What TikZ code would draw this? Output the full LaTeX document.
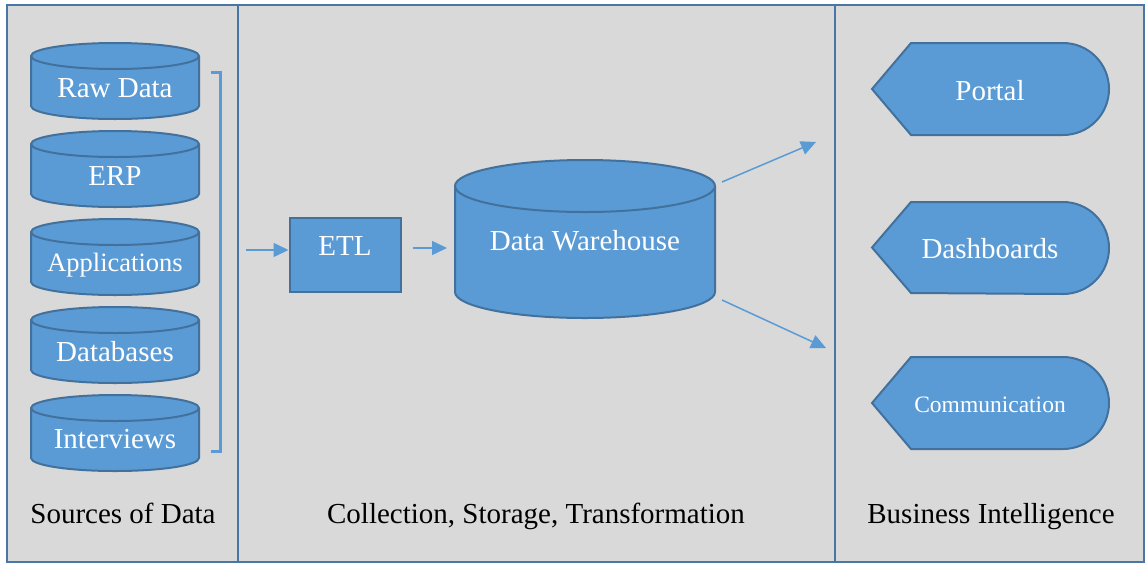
\documentclass[tikz,border=0pt]{standalone}
\usepackage{fontspec}
\setmainfont{Liberation Serif}
\usetikzlibrary{arrows.meta,calc}
\definecolor{bgray}{HTML}{D9D9D9}
\definecolor{fillblue}{HTML}{5B9BD5}
\definecolor{edgeblue}{HTML}{41719C}
\definecolor{framblue}{HTML}{4A76A6}
\tikzset{
  cylbody/.style={fill=fillblue,draw=edgeblue,line width=2pt},
  celltext/.style={text=white,inner sep=0pt,anchor=base,font=\fontsize{29}{31}\selectfont},
  caption/.style={text=black,inner sep=0pt,anchor=base,font=\fontsize{29}{31}\selectfont},
  flowarrow/.style={draw=fillblue,line width=1.5pt,-{Triangle[length=15pt,width=14pt]}},
  bishape/.style={fill=fillblue,draw=edgeblue,line width=2pt},
}
% #1 name, #2 cx, #3 top, #4 bottom, #5 rx, #6 ry
\newcommand\dbcyl[6]{%
  \filldraw[cylbody] (#2-#5,-#3-#6) -- (#2-#5,-#4+#6)
    arc[start angle=180,end angle=360,x radius=#5,y radius=#6]
    -- (#2+#5,-#3-#6)
    arc[start angle=0,end angle=180,x radius=#5,y radius=#6] -- cycle;
  \draw[cylbody,fill=none] (#2-#5,-#3-#6)
    arc[start angle=180,end angle=360,x radius=#5,y radius=#6];
  \node[inner sep=0pt,minimum width=2*#5,minimum height=#4-#3] (#1) at (#2,-#3/2-#4/2) {};
}
% #1 name, #2 top, #3 bottom
\newcommand\bishapedraw[3]{%
  \filldraw[bishape] (872,-#2/2-#3/2) -- (911,-#2) -- (1063,-#2)
    arc[start angle=90,end angle=-90,radius=46] -- (911,-#3) -- cycle;
  \node[inner sep=0pt,minimum width=237,minimum height=#3-#2] (#1) at (990.5,-#2/2-#3/2) {};
}
\begin{document}
\begin{tikzpicture}[x=1pt,y=1pt]
\useasboundingbox (0,0) rectangle (1145,-563);
\fill[white] (0,0) rectangle (1145,-563);
\filldraw[fill=bgray,draw=framblue,line width=2pt] (7,-5) rectangle (1144,-562);
\draw[framblue,line width=2pt] (237.5,-5) -- (237.5,-562);
\draw[framblue,line width=2pt] (834.5,-5) -- (834.5,-562);

% sources
\dbcyl{raw}{115}{43}{119}{84}{13}
\dbcyl{erp}{115}{131}{207}{84}{13}
\dbcyl{app}{115}{219}{295}{84}{13}
\dbcyl{dbs}{115}{307}{383}{84}{13}
\dbcyl{intv}{115}{395}{471}{84}{13}
\node[celltext] (rawt) at (115,-97) {Raw Data};
\node[celltext] (erpt) at (115,-185) {ERP};
\node[celltext,font=\fontsize{26.5}{28}\selectfont] (appt) at (115,-271) {Applications};
\node[celltext] (dbst) at (115,-361) {Databases};
\node[celltext] (intvt) at (115,-448) {Interviews};

% bracket
\draw[fillblue,line width=3pt] (211,-72.5) -- (220.5,-72.5) -- (220.5,-451) -- (211,-451);

% ETL
\node[fill=fillblue,draw=edgeblue,line width=2pt,minimum width=111,minimum height=74,inner sep=0pt] (etl) at (345,-254.5) {};
\node[celltext] (etlt) at (345,-255) {ETL};
\coordinate (srcout) at (246,-250);
\draw[flowarrow] (srcout) -- (etl.west |- srcout);
\coordinate (dwin) at (447,-248);
\draw[flowarrow] (etl.east |- dwin) ++(11,0) -- (dwin);

% Data warehouse
\dbcyl{dw}{585}{160}{318}{130}{26}
\node[celltext] (dwt) at (585,-250) {Data Warehouse};
\coordinate (dwup) at (722,-182);
\coordinate (dwdown) at (722,-300);
\coordinate (biup) at (816,-142);
\coordinate (bidown) at (826,-348);
\draw[flowarrow] (dwup) -- (biup);
\draw[flowarrow] (dwdown) -- (bidown);

% BI shapes
\bishapedraw{portal}{43}{135}
\bishapedraw{dash}{202}{293}
\bishapedraw{comm}{357}{449}
\node[celltext] (portalt) at (990,-100) {Portal};
\node[celltext] (dasht) at (990,-258) {Dashboards};
\node[celltext,font=\fontsize{23.5}{25}\selectfont] (commt) at (990,-412) {Communication};

% captions
\node[caption] (c1) at (123,-523) {Sources of Data};
\node[caption] (c2) at (536,-523) {Collection, Storage, Transformation};
\node[caption] (c3) at (991,-523) {Business Intelligence};
\end{tikzpicture}
\end{document}
